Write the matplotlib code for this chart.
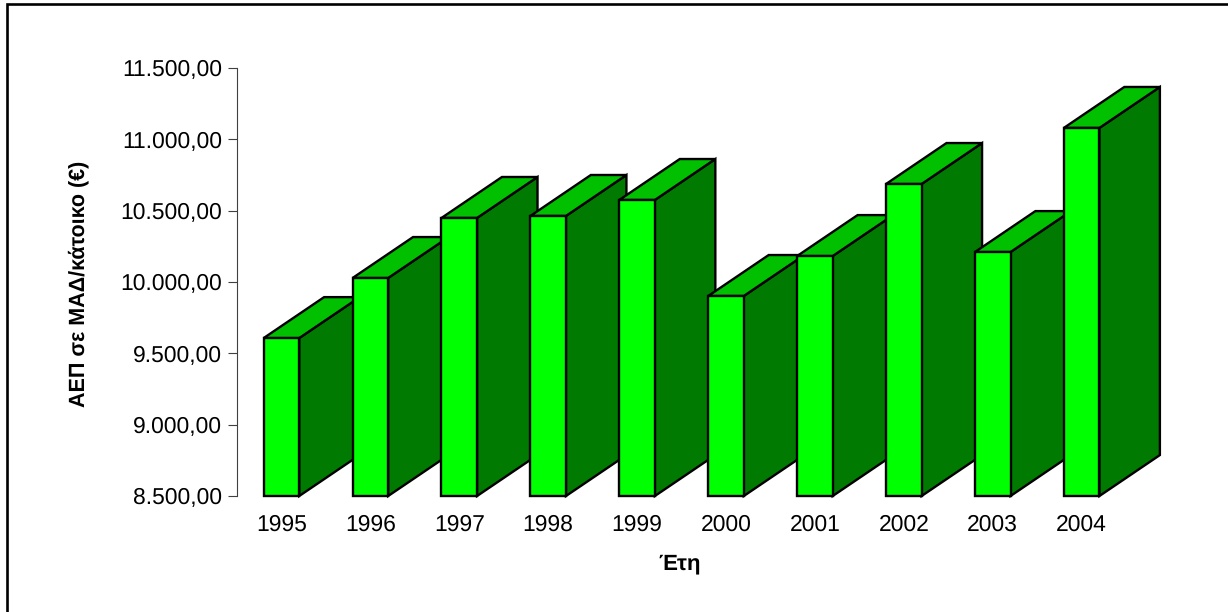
"""Bar chart of GDP per capita (PPS) by year, drawn as extruded 3D-style columns."""

import matplotlib
matplotlib.use("Agg")
import matplotlib.pyplot as plt
import matplotlib.ticker as mticker
from matplotlib.lines import Line2D
from matplotlib.patches import Polygon, Rectangle

plt.rcParams["font.family"] = ["Liberation Sans", "DejaVu Sans"]
plt.rcParams["text.hinting"] = "no_hinting"

years = ["1995", "1996", "1997", "1998", "1999", "2000", "2001", "2002", "2003", "2004"]
gdp = [9607, 10028, 10449, 10463, 10575, 9902, 10182, 10687, 10210, 11080]
yticks = [8500, 9000, 9500, 10000, 10500, 11000, 11500]

W, H = 1228, 612
BASE = 8500
BAR_W = 0.40     # bar width, in category units
DEPTH_X = 0.68   # extrusion, category units
DEPTH_Y = 287    # extrusion, value units


def greek_fmt(v, _pos=None):
    return f"{v:,.2f}".replace(",", "#").replace(".", ",").replace("#", ".")


fig = plt.figure(figsize=(W / 100, H / 100), dpi=100, facecolor="white")
ax = fig.add_axes([237 / W, 1 - 496 / H, (1159 - 237) / W, (496 - 68) / H])
ax.set_xlim(-0.5, 9.87)
ax.set_ylim(8500, 11500)

edge = dict(edgecolor="black", linewidth=1.7, joinstyle="miter", clip_on=False)
for i, val in enumerate(gdp):
    l, r = i - BAR_W / 2, i + BAR_W / 2
    ax.add_patch(Polygon([(r, BASE), (r + DEPTH_X, BASE + DEPTH_Y),
                          (r + DEPTH_X, val + DEPTH_Y), (r, val)],
                         facecolor="#007A00", zorder=2 + i, **edge))
    ax.add_patch(Polygon([(l, val), (l + DEPTH_X, val + DEPTH_Y),
                          (r + DEPTH_X, val + DEPTH_Y), (r, val)],
                         facecolor="#00C000", zorder=2 + i, **edge))
    ax.add_patch(Rectangle((l, BASE), BAR_W, val - BASE,
                           facecolor="#00FF00", zorder=2 + i, **edge))

ax.set_yticks(yticks)
ax.yaxis.set_major_formatter(mticker.FuncFormatter(greek_fmt))
ax.set_xticks(range(len(years)))
ax.set_xticklabels(years)
ax.tick_params(axis="y", length=6.5, width=0.8, color="#404040", labelsize=16.5, pad=4)
ax.tick_params(axis="x", length=0, labelsize=16.5, pad=13)

for side in ("top", "right", "bottom"):
    ax.spines[side].set_visible(False)
ax.spines["left"].set_color("#404040")
ax.spines["left"].set_linewidth(0.8)

fig.text(79 / W, 1 - 284 / H, "ΑΕΠ σε ΜΑΔ/κάτοικο (€)", rotation=90, fontsize=15.5,
         fontweight="bold", ha="center", va="center")
fig.text(680 / W, 1 - 564 / H, "Έτη", fontsize=16, fontweight="bold",
         ha="center", va="center")

# frame of the original only shows on the top and left sides
fig.add_artist(Line2D([7.3 / W, 7.3 / W, 1], [0, 1 - 4 / H, 1 - 4 / H],
                      transform=fig.transFigure, color="black", linewidth=1.9,
                      solid_joinstyle="miter"))

fig.savefig("out.png", dpi=100)
